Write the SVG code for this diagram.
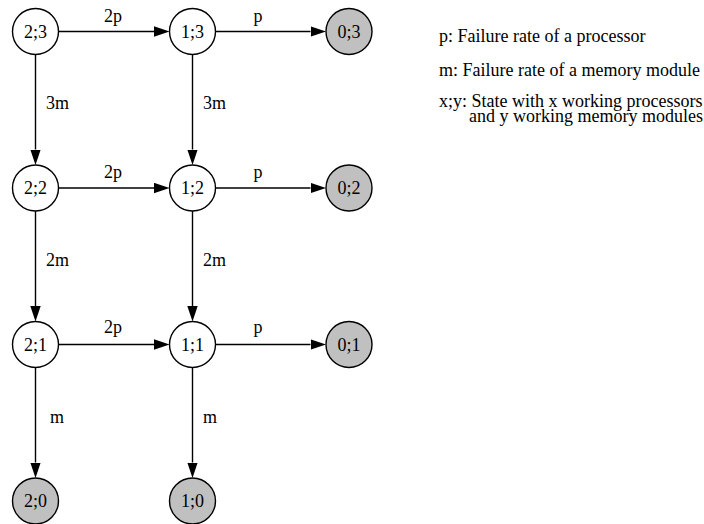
<svg xmlns="http://www.w3.org/2000/svg" width="704" height="524" viewBox="0 0 704 524">
<style>
text{font-family:"Liberation Serif","Times New Roman",serif;font-size:18px;fill:#000}
.n circle{stroke:#000;stroke-width:1.4;fill:#fff}
.n.g circle{fill:#c0c0c0}
.n text{text-anchor:middle}
.e line{stroke:#000;stroke-width:1.4}
.lbl{text-anchor:middle}
.r{text-anchor:end}
</style>
<defs>
<marker id="ah" markerUnits="userSpaceOnUse" markerWidth="17" markerHeight="11" refX="0" refY="5.2" orient="auto">
<path d="M0,0 L15.5,5.2 L0,10.4 z" fill="#000"/>
</marker>
</defs>
<rect width="704" height="524" fill="#fff"/>
<g id="edges" class="e">
<line x1="58" y1="31.5" x2="154" y2="31.5" marker-end="url(#ah)"/>
<line x1="215" y1="31.5" x2="310.5" y2="31.5" marker-end="url(#ah)"/>
<line x1="58" y1="188" x2="154" y2="188" marker-end="url(#ah)"/>
<line x1="215" y1="188" x2="310.5" y2="188" marker-end="url(#ah)"/>
<line x1="58" y1="344.5" x2="154" y2="344.5" marker-end="url(#ah)"/>
<line x1="215" y1="344.5" x2="310.5" y2="344.5" marker-end="url(#ah)"/>
<line x1="35.5" y1="54.5" x2="35.5" y2="149.5" marker-end="url(#ah)"/>
<line x1="192.5" y1="54.5" x2="192.5" y2="149.5" marker-end="url(#ah)"/>
<line x1="35.5" y1="211" x2="35.5" y2="306" marker-end="url(#ah)"/>
<line x1="192.5" y1="211" x2="192.5" y2="306" marker-end="url(#ah)"/>
<line x1="35.5" y1="367.5" x2="35.5" y2="462.5" marker-end="url(#ah)"/>
<line x1="192.5" y1="367.5" x2="192.5" y2="462.5" marker-end="url(#ah)"/>
<text class="lbl" x="113" y="22">2p</text>
<text class="lbl" x="258" y="22">p</text>
<text class="lbl" x="113" y="178">2p</text>
<text class="lbl" x="258" y="178">p</text>
<text class="lbl" x="113" y="333">2p</text>
<text class="lbl" x="258" y="333">p</text>
<text class="lbl" x="57.5" y="109">3m</text>
<text class="lbl" x="214.5" y="109">3m</text>
<text class="lbl" x="57.5" y="266">2m</text>
<text class="lbl" x="214.5" y="266">2m</text>
<text class="lbl" x="57" y="423">m</text>
<text class="lbl" x="210" y="423">m</text>
</g>
<g id="n23" class="n"><circle cx="35.5" cy="31.5" r="23"/><text x="35.5" y="37.5">2;3</text></g>
<g id="n13" class="n"><circle cx="192.5" cy="31.5" r="23"/><text x="192.5" y="37.5">1;3</text></g>
<g id="n03" class="n g"><circle cx="349" cy="31.5" r="23"/><text x="349" y="37.5">0;3</text></g>
<g id="n22" class="n"><circle cx="35.5" cy="188" r="23"/><text x="35.5" y="194">2;2</text></g>
<g id="n12" class="n"><circle cx="192.5" cy="188" r="23"/><text x="192.5" y="194">1;2</text></g>
<g id="n02" class="n g"><circle cx="349" cy="188" r="23"/><text x="349" y="194">0;2</text></g>
<g id="n21" class="n"><circle cx="35.5" cy="344.5" r="23"/><text x="35.5" y="350.5">2;1</text></g>
<g id="n11" class="n"><circle cx="192.5" cy="344.5" r="23"/><text x="192.5" y="350.5">1;1</text></g>
<g id="n01" class="n g"><circle cx="349" cy="344.5" r="23"/><text x="349" y="350.5">0;1</text></g>
<g id="n20" class="n g"><circle cx="35.5" cy="501" r="23"/><text x="35.5" y="507">2;0</text></g>
<g id="n10" class="n g"><circle cx="192.5" cy="501" r="23"/><text x="192.5" y="507">1;0</text></g>
<g id="legend">
<text x="439" y="41.5">p: Failure rate of a processor</text>
<text x="439" y="75.5">m: Failure rate of a memory module</text>
<text x="439" y="106.5">x;y: State with x working processors</text>
<text class="r" x="703" y="121.5">and y working memory modules</text>
</g>
</svg>
